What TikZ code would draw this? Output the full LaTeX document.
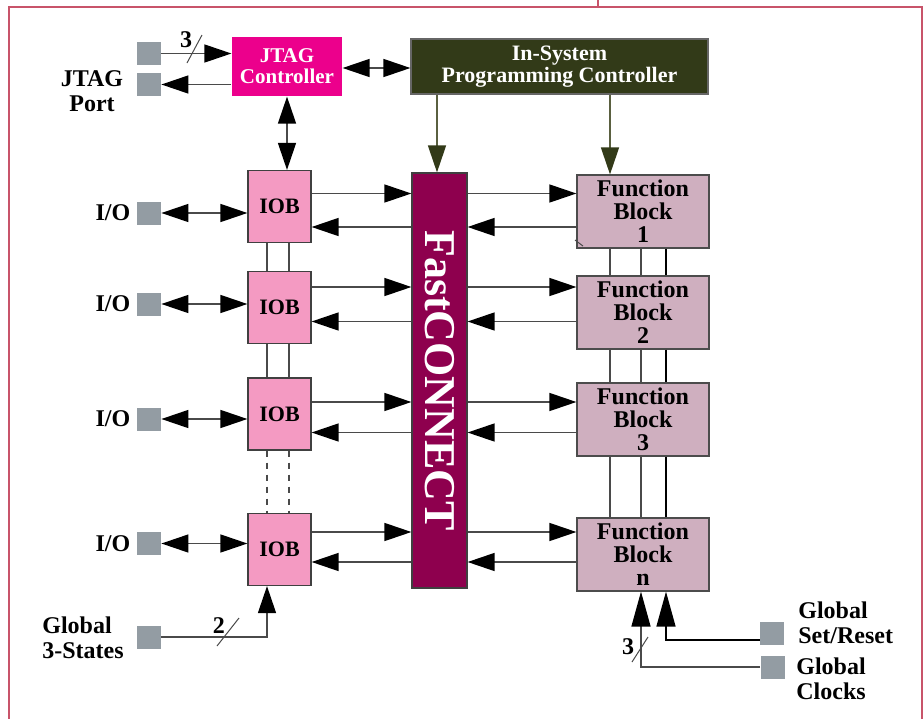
\documentclass[tikz,border=0pt]{standalone}
\usepackage{fontspec}
\setmainfont{Liberation Serif}
\usetikzlibrary{arrows.meta}

\definecolor{framered}{HTML}{C8546A}
\definecolor{jtagmag}{HTML}{EC008C}
\definecolor{ispolive}{HTML}{323A18}
\definecolor{ispline}{HTML}{5A6040}
\definecolor{iobpink}{HTML}{F49AC2}
\definecolor{fbmauve}{HTML}{CFAFBF}
\definecolor{fcwine}{HTML}{8E004E}
\definecolor{padgray}{HTML}{939CA3}
\definecolor{wiregray}{HTML}{4A4A4A}

\tikzset{
  box/.style={draw=black!75, line width=0.6pt, inner sep=0pt, align=center, font=\bfseries},
  jtagbox/.style={box, draw=none, fill=jtagmag, text=white, minimum width=55pt, minimum height=29.5pt,
    font=\fontsize{10.5}{10.5}\selectfont\bfseries},
  ispbox/.style={box, draw=black!60, fill=ispolive, text=white, minimum width=148.5pt, minimum height=27.5pt,
    font=\fontsize{11}{10}\selectfont\bfseries},
  iob/.style={box, fill=iobpink, minimum width=31.5pt, minimum height=36pt,
    font=\fontsize{11}{12}\selectfont\bfseries},
  fb/.style={box, draw=black!70, fill=fbmauve, minimum width=66pt, minimum height=36.5pt,
    font=\fontsize{12}{11.5}\selectfont\bfseries},
  fcbox/.style={box, fill=fcwine, minimum width=27.5pt, minimum height=207.5pt},
  pad/.style={fill=padgray, inner sep=0pt, minimum width=12pt, minimum height=11.5pt},
  lbl/.style={inner sep=0pt, font=\fontsize{12}{12.5}\selectfont\bfseries},
  wire/.style={draw=wiregray, line width=0.7pt},
  bus/.style={draw=wiregray, line width=0.7pt},
  frm/.style={draw=framered, line width=0.7pt},
  >={Triangle[length=13.5pt,width=9pt,color=black]},
  bigtip/.style={-{Triangle[length=17.5pt,width=9.5pt,color=black]}},
  isparrow/.style={draw=ispline, line width=0.7pt, -{Triangle[length=13.5pt,width=9pt,color=ispolive]}}
}

\begin{document}
\begin{tikzpicture}[x=0.5pt,y=-0.5pt]
  \useasboundingbox (0,0) rectangle (923,719);
  % frame
  \draw[frm] (9,719) -- (9,7) -- (922,7) -- (922,719);
  \draw[frm] (598,0) -- (598,7);

  % blocks
  \node[jtagbox] (jtag) at (287,66.5) {JTAG\\Controller};
  \node[ispbox] (isp) at (559.5,66.5) {In-System\\Programming Controller};
  \node[fcbox] (fc) at (439.5,380.5) {};
  \node[rotate=-90, text=white, inner sep=0pt, font=\fontsize{22}{22}\selectfont\bfseries] (fctext) at (fc.center) {FastCONNECT};
  \node[iob] (iob1) at (279.5,206.5) {IOB};
  \node[iob] (iob2) at (279.5,307.5) {IOB};
  \node[iob] (iob3) at (279.5,414) {IOB};
  \node[iob] (iob4) at (279.5,549.5) {IOB};
  \node[fb] (fb1) at (643,211.5) {Function\\Block\\1};
  \node[fb] (fb2) at (643,312.5) {Function\\Block\\2};
  \node[fb] (fb3) at (643,419.5) {Function\\Block\\3};
  \node[fb] (fbn) at (643,554.5) {Function\\Block\\n};

  % pads
  \node[pad] (jin) at (149,53.5) {};
  \node[pad] (jout) at (149,84.5) {};
  \node[pad] (io1) at (149,213) {};
  \node[pad] (io2) at (149,304) {};
  \node[pad] (io3) at (149,419) {};
  \node[pad] (io4) at (149,543.5) {};
  \node[pad] (g3s) at (149,637) {};
  \node[pad] (gsr) at (772,633.5) {};
  \node[pad] (gck) at (772.5,667) {};

  % labels
  \node[lbl, align=center] (jport) at (92,91) {JTAG\\Port};
  \foreach \i in {1,...,4}
    \node[lbl, anchor=east] (iolbl\i) at ([xshift=-3pt]io\i.west) {I/O};
  \node[lbl, align=left, anchor=west] (g3slbl) at (42,638) {Global\\3-States};
  \node[lbl, align=left, anchor=west] (gsrlbl) at (798,623) {Global\\Set/Reset};
  \node[lbl, align=left, anchor=west] (gcklbl) at (796,679) {Global\\Clocks};

  % JTAG port and controller
  \draw[wire,->] (jin.east) -- (jin.east -| jtag.west);
  \draw[wire,->] (jtag.west |- jout) -- (jout.east);
  \node[lbl] (w3a) at (186,40) {3};
  \draw[wire, line width=0.5pt] (187,63) -- (202,35);
  \draw[wire,<->] (jtag.east |- 0,68) -- (isp.west |- 0,68);
  \draw[wire,<->] (jtag.south) -- (jtag.south |- iob1.north);

  % ISP outputs
  \draw[isparrow] (isp.south -| 437,0) -- (fc.north -| 437,0);
  \draw[isparrow] (isp.south -| 610,0) -- (fb1.north -| 610,0);

  % IOB buses
  \foreach \a/\b in {iob1/iob2, iob2/iob3} {
    \draw[bus] (\a.south -| 267,0) -- (\b.north -| 267,0);
    \draw[bus] (\a.south -| 289,0) -- (\b.north -| 289,0);
  }
  \draw[bus, dashed] (iob3.south -| 267,0) -- (iob4.north -| 267,0);
  \draw[bus, dashed] (iob3.south -| 289,0) -- (iob4.north -| 289,0);

  % function block buses
  \foreach \a/\b in {fb1/fb2, fb2/fb3, fb3/fbn} {
    \draw[bus] (\a.south -| 610,0) -- (\b.north -| 610,0);
    \draw[bus] (\a.south -| 641,0) -- (\b.north -| 641,0);
    \draw[bus, draw=black] (\a.south -| 666,0) -- (\b.north -| 666,0);
  }
  \draw[wire, line width=0.5pt] (575,240) -- (583,246);

  % rows through FastCONNECT
  \foreach \i/\f/\ya/\yb in {1/fb1/193.5/227, 2/fb2/287/321.5, 3/fb3/402/432.5, 4/fbn/532/562} {
    \draw[wire,<->] (io\i.east) -- (io\i.east -| iob\i.west);
    \draw[wire,->] (iob\i.east |- 0,\ya) -- (fc.west |- 0,\ya);
    \draw[wire,->] (fc.west |- 0,\yb) -- (iob\i.east |- 0,\yb);
    \draw[wire,->] (fc.east |- 0,\ya) -- (\f.west |- 0,\ya);
    \draw[wire,->] (\f.west |- 0,\yb) -- (fc.east |- 0,\yb);
  }

  % global 3-states
  \draw[wire,->] (g3s.east) -| (iob4.south -| 267,0);
  \node[lbl] (w2) at (219,626) {2};
  \draw[wire, line width=0.5pt] (217,646) -- (239,618);

  % global clocks and set/reset
  \draw[wire, bigtip] (gck.west) -| (fbn.south -| 641,0);
  \draw[wire, draw=black, bigtip] (gsr.west |- 0,640) -| (fbn.south -| 666,0);
  \node[lbl] (w3b) at (628,647) {3};
  \draw[wire, line width=0.5pt] (632,662) -- (648,637);
\end{tikzpicture}
\end{document}
